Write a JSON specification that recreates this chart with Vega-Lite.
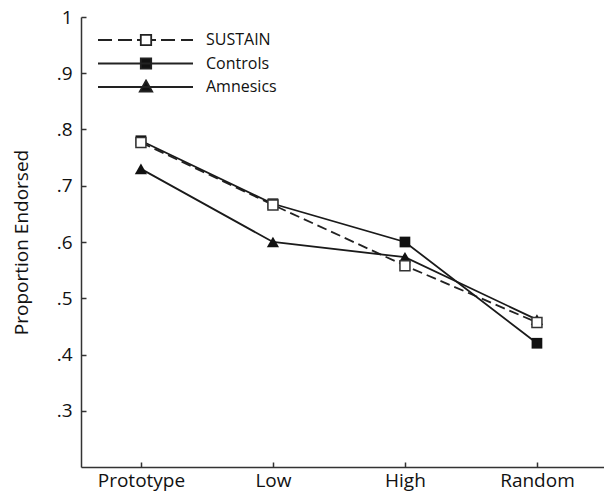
{
  "$schema": "https://vega.github.io/schema/vega-lite/v6.json",
  "width": 523,
  "height": 450,
  "autosize": {"type": "none"},
  "padding": {"left": 81, "top": 17, "right": 0, "bottom": 31},
  "config": {"view": {"stroke": null}, "font": "Open Sans"},
  "data": {
    "values": [
      {"condition": "Prototype", "series": "Amnesics", "value": 0.73},
      {"condition": "Low", "series": "Amnesics", "value": 0.6},
      {"condition": "High", "series": "Amnesics", "value": 0.573},
      {"condition": "Random", "series": "Amnesics", "value": 0.462},
      {"condition": "Prototype", "series": "Controls", "value": 0.78},
      {"condition": "Low", "series": "Controls", "value": 0.668},
      {"condition": "High", "series": "Controls", "value": 0.6},
      {"condition": "Random", "series": "Controls", "value": 0.42},
      {"condition": "Prototype", "series": "SUSTAIN", "value": 0.777},
      {"condition": "Low", "series": "SUSTAIN", "value": 0.666},
      {"condition": "High", "series": "SUSTAIN", "value": 0.558},
      {"condition": "Random", "series": "SUSTAIN", "value": 0.457}
    ]
  },
  "encoding": {
    "x": {
      "field": "condition",
      "type": "ordinal",
      "sort": ["Prototype", "Low", "High", "Random"],
      "scale": {"type": "point", "padding": 0.481, "align": 0.472},
      "axis": {
        "title": null,
        "labelAngle": 0,
        "labelFontSize": 19,
        "labelColor": "#111",
        "labelPadding": 9,
        "tickSize": -5,
        "tickColor": "#333",
        "tickWidth": 1.5,
        "domainColor": "#333",
        "domainWidth": 1.5,
        "grid": false
      }
    },
    "y": {
      "field": "value",
      "type": "quantitative",
      "scale": {"domain": [0.2, 1]},
      "axis": {
        "title": "Proportion Endorsed",
        "titleFontSize": 19,
        "titleFontWeight": "normal",
        "titleColor": "#111",
        "titlePadding": 25,
        "values": [0.3, 0.4, 0.5, 0.6, 0.7, 0.8, 0.9, 1],
        "labelExpr": "datum.value == 1 ? '1' : replace(format(datum.value, '.1f'), '0.', '.')",
        "labelFontSize": 19,
        "labelColor": "#111",
        "labelPadding": 14,
        "tickSize": -5,
        "tickColor": "#333",
        "tickWidth": 1.5,
        "domainColor": "#333",
        "domainWidth": 1.5,
        "grid": false
      }
    }
  },
  "layer": [
    {
      "transform": [{"filter": "datum.series == 'SUSTAIN'"}],
      "mark": {"type": "line", "color": "#222", "strokeWidth": 1.8, "strokeDash": [10, 5]}
    },
    {
      "transform": [{"filter": "datum.series != 'SUSTAIN'"}],
      "mark": {"type": "line", "color": "#1a1a1a", "strokeWidth": 1.8},
      "encoding": {"detail": {"field": "series"}}
    },
    {
      "transform": [{"filter": "datum.series == 'Amnesics'"}],
      "mark": {"type": "point", "shape": "triangle-up", "filled": true, "color": "#111", "size": 150, "opacity": 1}
    },
    {
      "transform": [{"filter": "datum.series == 'Controls'"}],
      "mark": {"type": "point", "shape": "square", "filled": true, "color": "#111", "size": 115, "opacity": 1}
    },
    {
      "transform": [{"filter": "datum.series == 'SUSTAIN'"}],
      "mark": {"type": "point", "shape": "square", "fill": "white", "stroke": "#333", "strokeWidth": 1.5, "size": 100, "opacity": 1}
    },
    {
      "mark": {"type": "point", "filled": false, "color": "#222", "strokeWidth": 1.8, "opacity": 0},
      "encoding": {
        "shape": {
          "field": "series",
          "type": "nominal",
          "scale": {
            "domain": ["SUSTAIN", "Controls", "Amnesics"],
            "range": [
              "M-4.8,0H-3.4M-2.8,0H-1.4M-0.9,0H-0.52M-0.52,-0.52H0.52V0.52H-0.52ZM0.52,0H1M1.5,0H2.9M3.5,0H4.7",
              "M-4.8,0H4.7M-0.52,-0.52H0.52V0.52H-0.52Z",
              "M-4.8,0H4.7M0,-0.65L0.62,0.45H-0.62Z"
            ]
          },
          "legend": {
            "title": null,
            "orient": "none",
            "legendX": 54,
            "legendY": 12,
            "padding": 0,
            "symbolSize": 400,
            "symbolStrokeColor": "#222",
            "symbolStrokeWidth": 1.8,
            "symbolOpacity": 1,
            "labelOffset": 49,
            "labelFontSize": 16,
            "labelColor": "#111",
            "rowPadding": 3.5,
            "encode": {
              "symbols": {
                "update": {
                  "stroke": {"value": "#222"},
                  "strokeWidth": {"value": 1.8},
                  "strokeOpacity": {"value": 1},
                  "opacity": {"value": 1}
                }
              }
            }
          }
        },
        "fill": {
          "field": "series",
          "type": "nominal",
          "scale": {
            "domain": ["SUSTAIN", "Controls", "Amnesics"],
            "range": ["white", "#111", "#111"]
          },
          "legend": {
            "title": null,
            "orient": "none",
            "legendX": 54,
            "legendY": 12,
            "padding": 0,
            "symbolSize": 400,
            "symbolStrokeColor": "#222",
            "symbolStrokeWidth": 1.8,
            "symbolOpacity": 1,
            "labelOffset": 49,
            "labelFontSize": 16,
            "labelColor": "#111",
            "rowPadding": 3.5,
            "encode": {
              "symbols": {
                "update": {
                  "stroke": {"value": "#222"},
                  "strokeWidth": {"value": 1.8},
                  "strokeOpacity": {"value": 1},
                  "opacity": {"value": 1}
                }
              }
            }
          }
        }
      }
    }
  ]
}
